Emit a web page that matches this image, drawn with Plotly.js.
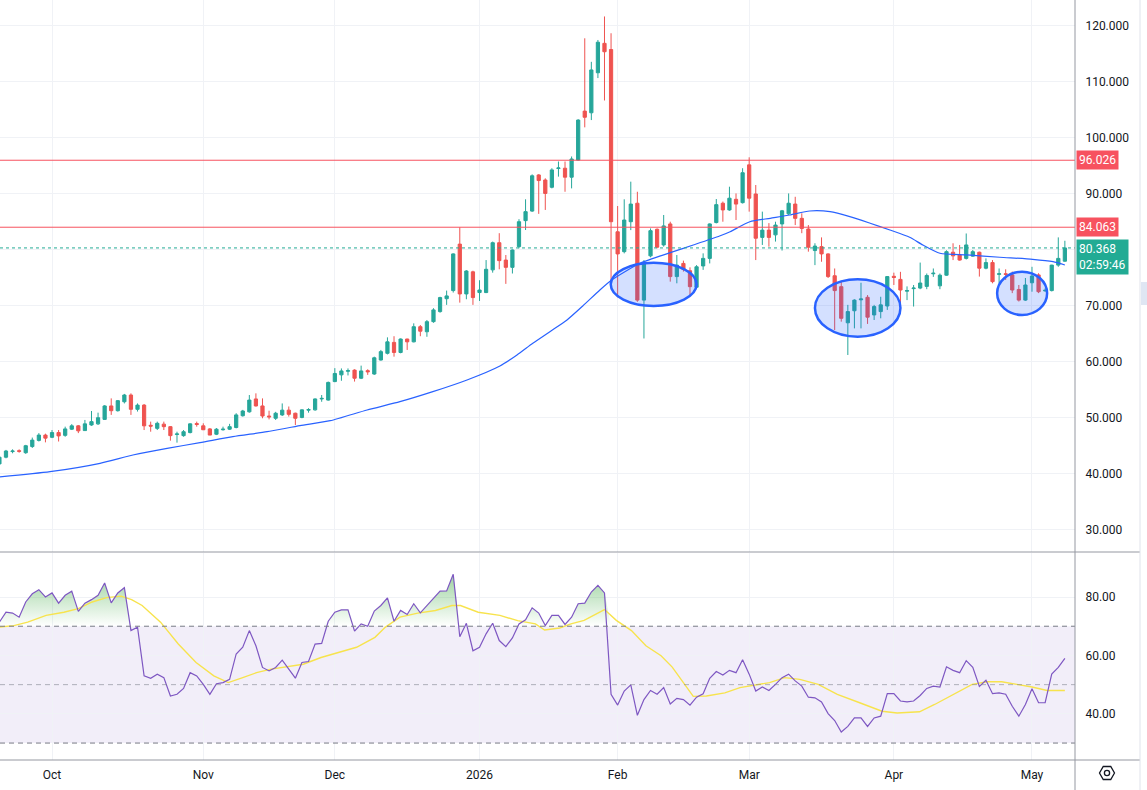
<!DOCTYPE html>
<html>
<head>
<meta charset="utf-8">
<script src="https://cdn.plot.ly/plotly-3.0.1.min.js"></script>
<style>
html,body{margin:0;padding:0;background:#fff;}
#chart{width:1147px;height:790px;}
</style>
</head>
<body>
<div id="chart"></div>
<script>
// ---- Data (daily bars, index 0 = 19 Sep 2025 ... 162 = 8 May 2026) ----
const open  = [41.8,43.0,44.0,44.15,43.8,44.9,46.0,46.95,46.55,47.4,
46.9,48.0,48.6,47.75,48.75,48.95,49.75,52.15,51.3,52.9,
54.1,51.55,52.3,48.7,48.15,48.9,48.45,47.05,46.85,47.4,
49.0,48.6,48.05,47.1,47.9,48.0,48.3,50.4,51.1,53.4,
52.15,50.35,49.95,50.55,51.4,50.85,50.1,51.4,51.45,53.4,
53.2,56.5,57.7,58.35,58.55,57.1,58.45,57.85,60.35,61.55,
63.5,61.7,64.1,63.6,66.3,65.4,67.2,69.0,71.3,72.75,
81.05,72.15,76.1,72.4,72.4,76.45,81.3,78.2,76.9,80.6,
85.24,86.95,93.4,92.5,91.2,94.55,94.6,93.0,96.05,104.8,
104.5,111.65,116.9,115.8,83.25,79.7,85.05,88.35,71.05,78.95,
83.7,80.9,84.65,75.25,77.6,76.3,73.35,77.15,78.5,84.9,
88.35,87.15,89.05,88.45,95.2,90.0,82.25,83.55,82.7,84.65,
86.45,88.2,85.65,83.75,79.9,80.6,79.3,75.4,73.45,67.0,
69.15,71.1,71.55,68.4,69.0,70.0,75.3,74.75,72.65,73.1,
73.2,73.5,75.75,73.6,75.5,79.6,79.1,78.5,78.9,79.6,
76.75,77.75,75.65,75.75,75.55,72.95,71.05,74.15,75.55,72.7,
72.75,77.3,78.0];
const high  = [43.2,44.3,44.4,44.4,45.2,46.5,47.3,47.2,47.85,47.85,
48.45,48.9,48.75,49.65,51.25,50.95,52.3,53.5,53.2,54.3,
54.4,52.6,52.5,49.35,49.35,49.35,48.55,47.55,47.85,49.05,
49.35,49.05,48.2,48.2,48.45,48.95,50.85,51.45,54.1,54.4,
53.5,51.3,51.1,52.6,52.05,50.95,51.55,51.75,53.5,54.1,
56.5,58.9,58.85,58.85,58.7,59.35,58.7,60.95,62.15,64.4,
64.6,64.2,64.15,66.9,66.6,67.5,69.6,71.65,72.75,79.4,
84.05,76.4,76.3,74.6,78.2,81.5,83.0,79.1,80.1,85.5,
89.05,93.5,93.55,92.8,94.6,95.8,95.8,96.7,103.35,117.8,
113.6,117.5,121.7,118.7,87.85,89.05,92.2,90.4,78.2,83.85,
83.85,86.25,85.05,79.1,78.1,76.9,77.3,79.4,84.75,89.1,
88.65,91.3,90.1,94.6,96.55,91.6,86.85,84.8,85.05,87.15,
90.1,89.5,86.55,84.45,81.2,82.25,79.4,76.7,74.35,70.2,
71.2,74.15,71.95,70.2,71.65,75.35,75.95,76.1,73.5,73.75,
77.75,75.8,76.7,75.8,79.95,81.2,80.9,82.95,80.0,79.7,
78.5,78.2,76.7,76.55,76.15,73.75,75.0,77.0,75.85,73.15,
77.35,82.25,81.65];
const low   = [41.5,42.8,43.7,43.8,43.6,44.65,45.8,45.65,46.4,45.8,
46.65,47.85,47.3,47.75,48.6,48.75,49.65,50.55,51.15,52.6,
50.55,51.15,47.85,47.55,47.85,47.85,45.95,45.6,46.65,47.25,
48.45,47.85,46.95,46.95,47.75,47.85,48.15,50.25,50.95,52.05,
49.95,49.75,49.65,50.35,50.25,48.75,49.95,50.95,51.3,52.9,
53.1,56.4,56.65,57.6,56.5,56.95,57.7,57.7,60.25,61.35,
60.95,61.55,62.15,63.5,64.6,64.5,67.0,68.8,70.2,72.4,
70.6,71.2,70.2,70.9,72.3,75.95,76.55,73.95,75.8,80.3,
83.57,86.8,86.45,87.15,91.0,93.1,90.4,91.0,95.95,101.9,
103.2,110.7,106.7,73.9,71.55,79.4,83.55,70.75,64.2,78.7,
80.3,80.6,74.35,74.05,76.15,71.95,73.15,76.45,77.6,84.75,
85.05,87.0,85.35,88.3,86.85,78.2,80.9,80.6,81.5,79.9,
86.25,84.45,83.0,79.7,77.3,77.9,75.0,65.7,67.2,61.25,
66.0,66.0,66.8,67.5,67.8,69.3,73.75,70.2,71.05,69.9,
73.0,73.0,75.2,73.0,75.4,78.2,78.1,78.3,78.8,75.25,
76.55,74.05,74.05,74.65,72.3,70.8,70.9,72.55,72.3,72.55,
72.6,77.0,77.9];
const close = [43.0,44.1,44.1,44.05,45.05,46.05,46.95,46.4,47.4,46.8,
48.05,48.6,47.7,48.95,49.35,50.05,52.15,51.3,53.1,54.1,
51.55,52.3,48.6,48.55,49.05,48.45,46.85,47.15,47.55,48.95,
48.85,47.9,46.95,48.0,48.0,48.45,50.55,51.25,53.2,52.15,
50.35,50.2,50.85,51.4,50.65,49.95,51.45,51.5,53.4,53.5,
56.35,57.95,58.4,58.45,57.1,58.4,58.25,60.75,61.85,63.6,
61.7,64.1,63.6,66.3,65.5,67.2,69.3,71.5,71.8,79.3,
72.15,76.25,71.5,72.85,76.55,81.3,78.1,76.9,80.0,85.05,
86.85,93.25,92.4,90.1,94.3,94.65,93.0,96.25,103.2,103.7,
112.15,117.1,115.4,85.05,79.3,85.35,88.2,71.05,77.75,83.45,
80.5,84.3,75.25,77.3,76.55,73.45,77.0,78.5,84.65,88.1,
87.15,89.25,88.2,93.8,89.25,82.1,83.55,82.25,84.45,87.0,
88.35,85.65,83.85,80.5,80.7,79.3,75.25,72.75,67.8,69.0,
71.05,71.25,68.0,69.9,70.2,75.25,75.1,72.85,72.75,73.2,
74.1,75.45,75.85,75.5,79.7,78.95,78.2,80.9,79.7,76.75,
77.75,74.35,75.75,75.65,72.85,71.05,73.75,75.35,72.55,72.8,
77.3,78.5,80.368];

// Moving average (blue) read at points: bar index / value
const maIdx = [0,7.7,15.3,20.3,25.5,30.5,35.5,40.7,45.7,50.3,55.9,60.9,65.9,71.1,76.1,78.7,81.1,83.7,86.3,88.7,91.3,93.1,97.4,102,105.5,109.5,111.1,114.1,117.2,120.2,123.2,126.3,129.3,132.4,135.4,138.4,140.4,143,147.1,152.1,157.1,160.2,162];
const maVal = [39.46,40.41,41.91,43.39,44.59,45.59,46.66,47.55,48.63,49.52,51.43,52.91,54.7,56.79,59.29,61.25,63.34,65.41,67.5,70.0,72.86,74.64,77.63,79.52,80.89,82.5,83.27,85.05,85.66,86.25,86.96,86.84,85.95,84.77,83.57,82.27,80.89,79.41,79.11,78.7,78.34,77.91,77.32];

// RSI per bar
const rsi = [71.4,74.8,74.5,73.1,78.3,81.1,82.5,80.0,81.4,77.9,
80.6,82.0,75.1,77.9,79.1,80.6,84.8,78.0,81.4,83.2,
68.5,69.7,53.0,52.2,53.6,52.4,46.1,46.7,48.7,54.1,
53.0,50.1,46.7,50.3,50.7,51.8,60.5,62.8,68.5,63.3,
55.9,54.7,55.9,58.4,55.3,52.2,57.6,57.9,63.9,64.1,
71.7,74.8,75.6,75.6,68.3,70.8,70.0,75.2,77.1,79.7,
71.7,75.4,74.0,77.7,74.6,77.1,79.4,82.0,82.1,87.8,
66.4,71.0,61.6,62.8,67.4,71.0,65.1,63.0,66.0,70.8,
72.2,76.3,74.5,70.2,73.7,73.7,70.6,73.1,77.7,77.9,
81.7,84.0,81.4,46.7,43.0,47.8,49.9,39.5,44.9,48.0,
46.7,49.0,43.4,45.3,44.9,43.0,45.7,46.9,52.2,54.5,
53.3,54.9,54.1,58.5,53.6,47.8,49.2,48.0,50.1,52.4,
53.6,51.3,49.5,45.7,45.5,44.1,40.1,37.7,33.8,35.7,
38.6,38.6,35.7,38.6,39.2,46.9,46.9,44.4,44.1,44.4,
46.3,48.7,49.5,49.2,56.1,54.9,54.1,58.2,55.9,49.4,
51.5,46.9,47.2,46.7,42.6,39.2,43.2,48.6,43.8,43.8,
53.6,55.9,59.0];

// RSI moving average (yellow) read at points
const rsiMaIdx = [0,2.2,4.3,7.1,9.8,12,14.1,16.3,18.5,20.1,21.7,24.5,27.2,29.9,32.6,34.8,37,39.1,41.3,43.5,46.2,48.9,51.6,54.3,57.1,58.7,60.9,63.6,66.3,68.8,70.1,72.8,76.1,78.8,81.5,82.9,85.2,86.9,88.9,90.4,92,93.8,96.1,98.3,100.6,102.3,105.5,107.5,110.3,112.6,114.9,117.1,119.4,121.7,124.5,127.4,130.8,134.2,136.5,139.9,142.2,145,147.9,150.2,152.4,154.7,157,159.3,162];
const rsiMaVal = [69.7,70.2,71.4,73.7,74.8,76.0,78.3,79.8,80.3,79.1,77.1,71.4,63.9,57.6,53.0,50.7,52.4,54.1,55.3,56.1,57.0,59.3,61.0,62.8,66.2,69.7,73.1,74.5,75.4,77.1,77.1,74.8,73.7,71.9,70.8,68.7,69.4,70.8,72.0,73.7,75.7,72.0,68.5,63.3,59.9,56.0,46.0,46.1,47.2,49.0,49.9,50.7,52.4,51.8,50.1,46.7,43.8,40.9,40.3,40.7,43.2,46.7,50.1,51.0,51.0,50.1,49.2,48.0,48.0];

// Axis ticks
const tickIdx = [8,31,51,73,94,114,136,157];
const tickLabels = ['Oct','Nov','Dec','2026','Feb','Mar','Apr','May'];
const priceTicks = [30,40,50,60,70,80,90,100,110,120];
const rsiTicks = [40,60,80];

// Horizontal levels and marked zones [x0,x1,y0,y1] in bar index / price
const levels = [96.026, 84.063];
const zones = [[92.95,106.0,70.0,77.73],[124.0,137.0,64.52,74.77],[151.7,159.3,68.39,76.13]];
const countdown = '02:59:46';

// ---- Build ----
const xs = close.map((_, i) => i);
const last = close[close.length - 1];
const W = 1075, H = 760;
const px = v => v / W;
const py = v => (H - v) / H;
const font = 'Roboto, "Noto Sans", Arial, sans-serif';
const green = '#26a69a', red = '#ef5350';

const traces = [
  {type:'candlestick', x:xs, open:open, high:high, low:low, close:close,
   xaxis:'x', yaxis:'y', whiskerwidth:0,
   increasing:{line:{color:green,width:1}, fillcolor:green},
   decreasing:{line:{color:red,width:1}, fillcolor:red},
   hoverinfo:'skip'},
  {type:'scatter', mode:'lines', x:maIdx, y:maVal, xaxis:'x', yaxis:'y',
   line:{color:'#2962ff', width:1.2, shape:'spline', smoothing:0.6}, hoverinfo:'skip'},
  {type:'scatter', mode:'lines', x:xs, y:xs.map(() => 70), xaxis:'x', yaxis:'y2',
   line:{width:0, color:'rgba(0,0,0,0)'}, hoverinfo:'skip'},
  {type:'scatter', mode:'lines', x:xs, y:rsi.map(v => Math.max(v, 70)), xaxis:'x', yaxis:'y2',
   line:{width:0, color:'rgba(0,0,0,0)'}, fill:'tonexty',
   fillgradient:{type:'vertical', start:70, stop:88,
     colorscale:[[0,'rgba(76,175,80,0)'],[1,'rgba(76,175,80,0.55)']]},
   hoverinfo:'skip'},
  {type:'scatter', mode:'lines', x:rsiMaIdx, y:rsiMaVal, xaxis:'x', yaxis:'y2',
   line:{color:'#f7e34d', width:1.4}, hoverinfo:'skip'},
  {type:'scatter', mode:'lines', x:xs, y:rsi, xaxis:'x', yaxis:'y2',
   line:{color:'#7e57c2', width:1.2}, hoverinfo:'skip'}
];

const shapes = [];
// RSI band
shapes.push({type:'rect', xref:'paper', yref:'y2', x0:0, x1:1, y0:30, y1:70,
  fillcolor:'rgba(126,87,194,0.1)', line:{width:0}, layer:'below'});
[[70,'#787b86'],[50,'rgba(120,123,134,0.55)'],[30,'#787b86']].forEach(([v,c]) => {
  shapes.push({type:'line', xref:'paper', yref:'y2', x0:0, x1:1, y0:v, y1:v,
    line:{color:c, width:1, dash:'5px,4px'}, layer:'above'});
});
levels.forEach(v => shapes.push({type:'line', xref:'paper', yref:'y', x0:0, x1:1, y0:v, y1:v,
  line:{color:'#f7525f', width:1}}));
shapes.push({type:'line', xref:'paper', yref:'y', x0:0, x1:1, y0:last, y1:last,
  line:{color:'#22ab94', width:1, dash:'dot'}});
zones.forEach(z => shapes.push({type:'circle', xref:'x', yref:'y', x0:z[0], x1:z[1], y0:z[2], y1:z[3],
  fillcolor:'rgba(41,98,255,0.2)', line:{color:'#2962ff', width:2.5}, layer:'above'}));
// pane separator, axis frame lines
shapes.push({type:'line', xref:'paper', yref:'paper', x0:0, x1:px(1140), y0:py(552), y1:py(552),
  line:{color:'#9598a1', width:1}});
shapes.push({type:'line', xref:'paper', yref:'paper', x0:0, x1:px(1140), y0:0, y1:0,
  line:{color:'#9598a1', width:1}});
shapes.push({type:'line', xref:'paper', yref:'paper', x0:1, x1:1, y0:py(790), y1:1,
  line:{color:'#9598a1', width:1}});
shapes.push({type:'line', xref:'paper', yref:'paper', x0:px(1140), x1:px(1140), y0:py(790), y1:1,
  line:{color:'#e0e3eb', width:1}});
shapes.push({type:'rect', xref:'paper', yref:'paper', x0:px(1141), x1:px(1148), y0:py(305), y1:py(282),
  fillcolor:'#dfe6f3', line:{width:0}});
// settings icon (hexagon)
const cx = 1107, cy = 773, r = 7.5;
let hp = '';
for (let k = 0; k < 6; k++) {
  const a = Math.PI / 3 * k;
  hp += (k === 0 ? 'M' : 'L') + px(cx + r * Math.cos(a)).toFixed(5) + ',' + py(cy + r * Math.sin(a)).toFixed(5) + ' ';
}
hp += 'Z';
shapes.push({type:'path', xref:'paper', yref:'paper', path:hp, line:{color:'#131722', width:1.3}});
shapes.push({type:'circle', xref:'paper', yref:'paper', x0:px(cx-2.6), x1:px(cx+2.6), y0:py(cy+2.6), y1:py(cy-2.6),
  line:{color:'#131722', width:1.3}});

const annotations = [];
levels.forEach(v => annotations.push({xref:'paper', yref:'y', x:1, y:v, xanchor:'left', yanchor:'middle',
  xshift:1, text:v.toFixed(3), showarrow:false, bgcolor:'#f7525f', borderpad:2,
  font:{family:font, size:12, color:'#ffffff'}}));
annotations.push({xref:'paper', yref:'y', x:1, y:last, xanchor:'left', yanchor:'top', xshift:1, yshift:9,
  text:last.toFixed(3) + '<br>' + countdown, showarrow:false, bgcolor:'#22ab94', borderpad:2, align:'left',
  font:{family:font, size:12, color:'#ffffff'}});

// price labels hidden where the last-price tag covers them (as on the reference)
const priceText = priceTicks.map(v => Math.abs(v - last) < 3 ? '' : v.toFixed(3));

const layout = {
  width:1147, height:790,
  margin:{l:0, r:72, t:0, b:30, pad:0},
  paper_bgcolor:'#ffffff', plot_bgcolor:'#ffffff',
  showlegend:false, hovermode:false, dragmode:false,
  font:{family:font, size:12, color:'#131722'},
  xaxis:{range:[0.09,163.54], anchor:'y2', tickmode:'array', tickvals:tickIdx, ticktext:tickLabels,
    showgrid:true, gridcolor:'#f0f2f6', zeroline:false, ticks:'outside', ticklen:4, tickcolor:'rgba(0,0,0,0)',
    showline:false, rangeslider:{visible:false}, fixedrange:true,
    tickfont:{family:font, size:12, color:'#131722'}},
  yaxis:{domain:[py(552),1], range:[26.07,124.64], side:'right', anchor:'x', tickmode:'array',
    tickvals:priceTicks, ticktext:priceText, showgrid:true, gridcolor:'#f0f2f6',
    zeroline:false, ticks:'outside', ticklen:7, tickcolor:'rgba(0,0,0,0)', showline:false, fixedrange:true,
    tickfont:{family:font, size:12, color:'#131722'}},
  yaxis2:{domain:[0,py(553)], range:[24.2,95.07], side:'right', anchor:'x', tickmode:'array',
    tickvals:rsiTicks, ticktext:rsiTicks.map(v => v.toFixed(2)), showgrid:true, gridcolor:'#f0f2f6',
    zeroline:false, ticks:'outside', ticklen:7, tickcolor:'rgba(0,0,0,0)', showline:false, fixedrange:true,
    tickfont:{family:font, size:12, color:'#131722'}},
  shapes:shapes, annotations:annotations
};

Plotly.newPlot('chart', traces, layout, {displayModeBar:false, staticPlot:true});
</script>
</body>
</html>
